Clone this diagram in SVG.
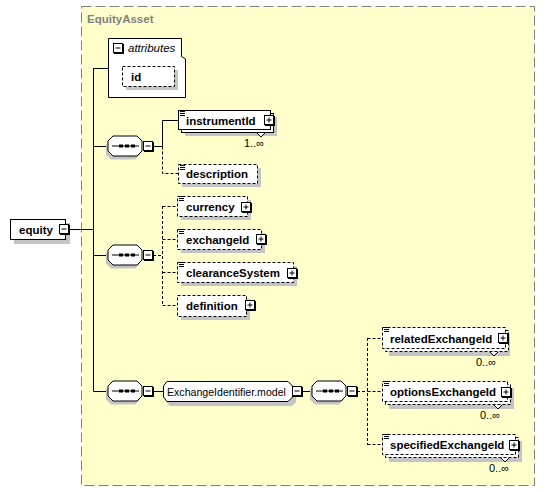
<svg xmlns="http://www.w3.org/2000/svg" xmlns:xlink="http://www.w3.org/1999/xlink" width="546" height="492" viewBox="0 0 546 492">
<style>
.lbl{font-family:"Liberation Sans",Arial,sans-serif;font-weight:bold;font-size:11.5px;fill:#000}
.card{font-family:"Liberation Sans",Arial,sans-serif;font-size:11px;fill:#000}
.box{fill:#fff;stroke:#000;stroke-width:1}
.dbox{fill:#fff;stroke:#000;stroke-width:1;stroke-dasharray:3,2}
.sh{fill:#c4c4c4}
.ln{fill:none;stroke:#000;stroke-width:1}
.dln{fill:none;stroke:#000;stroke-width:1;stroke-dasharray:3,2}
.ico{fill:none;stroke:#000;stroke-width:1}
</style>
<defs>
<g id="minus"><rect x="1" y="1" width="10" height="10" fill="#000"/><rect x="0.5" y="0.5" width="9" height="9" fill="#fff" stroke="#000"/><path d="M2.5,5 H7.5" stroke="#000"/></g>
<g id="plus"><rect x="1" y="1" width="10" height="10" fill="#000"/><rect x="0.5" y="0.5" width="9" height="9" fill="#fff" stroke="#000"/><path d="M2.5,5 H7.5 M5,2.5 V7.5" stroke="#000"/></g>
<g id="lines"><path d="M0,0.5 H5 M0,2.5 H5 M0,4.5 H5" stroke="#000" stroke-width="1"/></g>
<g id="seq"><polygon points="3,4 27,4 32,9 32,19 27,24 3,24 -2,19 -2,9" class="sh"/><polygon points="5,0.5 29,0.5 34,5.5 34,15.5 29,20.5 5,20.5 0,15.5 0,5.5" class="box"/><path d="M4,10.5 H31" stroke="#000"/><rect x="11" y="9" width="4" height="3" fill="#000"/><rect x="17" y="9" width="4" height="3" fill="#000"/><rect x="23" y="9" width="4" height="3" fill="#000"/></g>
</defs>

<rect x="0" y="0" width="546" height="492" fill="#fff"/>
<g id="EquityAsset">
<rect x="81.5" y="6.5" width="453" height="479" fill="#ffffcc" stroke="#808080" stroke-dasharray="10,4"/>
<text x="87" y="23" class="lbl" style="fill:#808080">EquityAsset</text>
</g>

<g id="connectors">
<path class="ln" d="M69,229.5 H93.5 M93.5,68 V391.5 M93.5,68.5 H108 M93.5,146.5 H108 M93.5,255.5 H108 M93.5,391.5 H108"/>
<path class="ln" d="M153,146.5 H162.5 V120.5 H178"/>
<path class="dln" d="M162.5,146.5 V173.5 H178"/>
<path class="dln" d="M153,255.5 H162.5 M162.5,206 V305.5 M162.5,206.5 H177 M162.5,239.5 H177 M162.5,272.5 H177 M162.5,305.5 H177"/>
<path class="ln" d="M153,391.5 H163 M302,391.5 H312"/>
<path class="dln" d="M357,391.5 H367.5 M367.5,338 V445 M367.5,338.5 H382 M367.5,391.5 H382 M367.5,444.5 H382"/>
</g>

<g id="equity">
<rect x="14" y="223" width="56" height="21" class="sh"/>
<rect x="10.5" y="219.5" width="55" height="20" class="box"/>
<text x="19" y="234" class="lbl">equity</text>
<use xlink:href="#minus" x="59" y="224"/>
</g>

<g id="attributes">
<path d="M108.5,38.5 H181.5 V56.5 L185.5,59 V97.5 H108.5 Z" class="box"/>
<use xlink:href="#minus" x="113" y="43"/>
<text x="128" y="52" class="lbl" style="font-weight:normal;font-style:italic">attributes</text>
<rect x="126" y="70" width="52" height="20" class="sh"/>
<rect x="122.5" y="66.5" width="52" height="20" class="dbox"/>
<text x="131" y="81" class="lbl">id</text>
</g>

<g id="seq1"><use xlink:href="#seq" x="108" y="135.5"/><use xlink:href="#minus" x="143" y="141"/></g>
<g id="seq2"><use xlink:href="#seq" x="108" y="244.5"/><use xlink:href="#minus" x="143" y="250"/></g>
<g id="seq3"><use xlink:href="#seq" x="108" y="380.5"/><use xlink:href="#minus" x="143" y="386"/></g>
<g id="seq4"><use xlink:href="#seq" x="312" y="380.5"/><use xlink:href="#minus" x="347" y="386"/></g>

<g id="instrumentId">
<rect x="185" y="117" width="92" height="19" class="sh"/>
<rect x="181.5" y="113.5" width="92" height="19" class="box"/>
<rect x="178.5" y="110.5" width="92" height="19" class="box"/>
<use xlink:href="#lines" x="180" y="111"/>
<text x="186" y="125" class="lbl">instrumentId</text>
<use xlink:href="#plus" x="264" y="115"/>
<polyline points="257,133 261,137 265,133" fill="#fff" stroke="#000"/>
<text x="244" y="147" class="card">1..∞</text>
</g>

<g id="description">
<rect x="182" y="168" width="79" height="19" class="sh"/>
<rect x="178.5" y="164.5" width="79" height="19" class="dbox"/>
<use xlink:href="#lines" x="180" y="165"/>
<text x="186" y="178" class="lbl">description</text>
</g>

<g id="currency">
<rect x="181" y="200" width="70" height="20" class="sh"/>
<rect x="177.5" y="196.5" width="70" height="20" class="dbox"/>
<use xlink:href="#lines" x="179" y="196"/>
<text x="186" y="211" class="lbl">currency</text>
<use xlink:href="#plus" x="241" y="202"/>
</g>

<g id="exchangeId">
<rect x="181" y="233" width="84" height="20" class="sh"/>
<rect x="177.5" y="229.5" width="84" height="20" class="dbox"/>
<use xlink:href="#lines" x="179" y="229"/>
<text x="186" y="244" class="lbl">exchangeId</text>
<use xlink:href="#plus" x="256" y="234"/>
</g>

<g id="clearanceSystem">
<rect x="181" y="266" width="116" height="20" class="sh"/>
<rect x="177.5" y="262.5" width="116" height="20" class="dbox"/>
<use xlink:href="#lines" x="179" y="262"/>
<text x="186" y="277" class="lbl">clearanceSystem</text>
<use xlink:href="#plus" x="287" y="268"/>
</g>

<g id="definition">
<rect x="181" y="299" width="69" height="21" class="sh"/>
<rect x="177.5" y="295.5" width="69" height="21" class="dbox"/>
<text x="186" y="310" class="lbl">definition</text>
<use xlink:href="#plus" x="245" y="300"/>
</g>

<g id="ExchangeIdentifier.model">
<polygon points="170,385 292,385 296,389 296,402 292,406 170,406 166,402 166,389" class="sh"/>
<polygon points="167,381.5 288,381.5 292.5,386 292.5,397 288,401.5 167,401.5 163.5,397 163.5,386" class="box"/>
<text x="167" y="396" class="lbl" style="font-weight:normal;font-size:10.6px">ExchangeIdentifier.model</text>
<use xlink:href="#minus" x="292" y="386"/>
</g>

<g id="relatedExchangeId">
<rect x="389" y="334" width="121" height="22" class="sh"/>
<rect x="385.5" y="330.5" width="123" height="21" class="dbox"/>
<rect x="382.5" y="327.5" width="123" height="21" class="dbox"/>
<use xlink:href="#lines" x="384" y="327"/>
<text x="390" y="343" class="lbl">relatedExchangeId</text>
<use xlink:href="#plus" x="498" y="333"/>
<polyline points="490,352 494,356 498,352" fill="#fff" stroke="#000"/>
<text x="476" y="366" class="card">0..∞</text>
</g>

<g id="optionsExchangeId">
<rect x="389" y="388" width="125" height="21" class="sh"/>
<rect x="385.5" y="384.5" width="125" height="20" class="dbox"/>
<rect x="382.5" y="381.5" width="125" height="20" class="dbox"/>
<use xlink:href="#lines" x="384" y="381"/>
<text x="390" y="396" class="lbl">optionsExchangeId</text>
<use xlink:href="#plus" x="501" y="387"/>
<polyline points="494,405 498,409 502,405" fill="#fff" stroke="#000"/>
<text x="480" y="419" class="card">0..∞</text>
</g>

<g id="specifiedExchangeId">
<rect x="389" y="441" width="133" height="21" class="sh"/>
<rect x="385.5" y="437.5" width="133" height="20" class="dbox"/>
<rect x="382.5" y="434.5" width="133" height="20" class="dbox"/>
<use xlink:href="#lines" x="384" y="434"/>
<text x="390" y="449" class="lbl">specifiedExchangeId</text>
<use xlink:href="#plus" x="509" y="440"/>
<polyline points="501,458 505,462 509,458" fill="#fff" stroke="#000"/>
<text x="489" y="472" class="card">0..∞</text>
</g>
</svg>
